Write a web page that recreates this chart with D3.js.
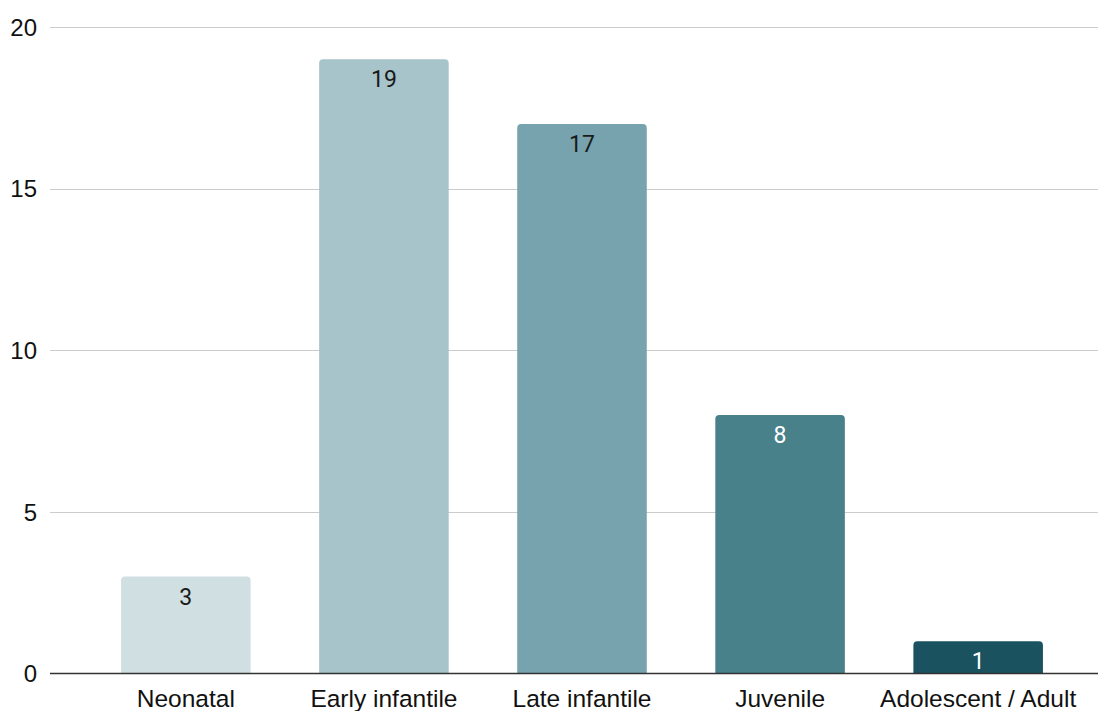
<!DOCTYPE html>
<html>
<head>
<meta charset="utf-8">
<script src="https://cdn.jsdelivr.net/npm/d3@7"></script>
<style>
  html, body { margin: 0; padding: 0; background: #fff; }
  svg { display: block; font-family: "Liberation Sans", Arial, Helvetica, sans-serif; }
</style>
</head>
<body>
<svg id="chart" width="1100" height="711"></svg>
<script>
// Age-of-onset groups and their counts
const categories = ["Neonatal", "Early infantile", "Late infantile", "Juvenile", "Adolescent / Adult"];
const counts = [3, 19, 17, 8, 1];
const barColors = ["#d0dfe2", "#a6c4ca", "#76a3ae", "#49818b", "#1a525f"];
const labelColors = ["#1a1a1a", "#1a1a1a", "#1a1a1a", "#ffffff", "#ffffff"];
const yTicks = [0, 5, 10, 15, 20];

const svg = d3.select("#chart");

const gridLeft = 50, gridRight = 1098;
const y = d3.scaleLinear().domain([0, 20]).range([673.5, 27]);
const x = d3.scaleBand()
  .domain(categories)
  .range([66, 1098])
  .paddingInner(0.346)
  .paddingOuter(0.278);

// Horizontal gridlines
svg.append("g")
  .selectAll("line")
  .data(yTicks.filter(d => d !== 0))
  .join("line")
  .attr("x1", gridLeft)
  .attr("x2", gridRight)
  .attr("y1", d => Math.round(y(d)) + 0.5)
  .attr("y2", d => Math.round(y(d)) + 0.5)
  .attr("stroke", "#cccccc")
  .attr("stroke-width", 1.2);

// Y tick labels
svg.append("g")
  .selectAll("text")
  .data(yTicks)
  .join("text")
  .attr("x", 37)
  .attr("y", d => y(d))
  .attr("dy", "0.36em")
  .attr("text-anchor", "end")
  .attr("font-size", 24)
  .attr("fill", "#111111")
  .text(d => d);

// Bars with rounded top corners
const r = 4;
function barPath(d, i) {
  const x0 = x(categories[i]);
  const w = x.bandwidth();
  const y0 = y(d);
  const yb = y(0);
  return `M${x0},${yb} V${y0 + r} Q${x0},${y0} ${x0 + r},${y0} H${x0 + w - r} Q${x0 + w},${y0} ${x0 + w},${y0 + r} V${yb} Z`;
}

svg.append("g")
  .selectAll("path")
  .data(counts)
  .join("path")
  .attr("d", (d, i) => barPath(d, i))
  .attr("fill", (d, i) => barColors[i]);

// Value labels inside bar tops
svg.append("g")
  .selectAll("text")
  .data(counts)
  .join("text")
  .attr("x", (d, i) => x(categories[i]) + x.bandwidth() / 2)
  .attr("y", d => y(d) + 28)
  .attr("text-anchor", "middle")
  .attr("font-family", "Roboto, 'Liberation Sans', sans-serif")
  .attr("font-size", 23)
  .attr("fill", (d, i) => labelColors[i])
  .text(d => d);

// Baseline
svg.append("line")
  .attr("x1", gridLeft)
  .attr("x2", gridRight)
  .attr("y1", y(0))
  .attr("y2", y(0))
  .attr("stroke", "#333333")
  .attr("stroke-width", 1.5);

// Category labels
svg.append("g")
  .selectAll("text")
  .data(categories)
  .join("text")
  .attr("x", d => x(d) + x.bandwidth() / 2)
  .attr("y", 707)
  .attr("text-anchor", "middle")
  .attr("font-size", 24.5)
  .attr("fill", "#111111")
  .text(d => d);
</script>
</body>
</html>
